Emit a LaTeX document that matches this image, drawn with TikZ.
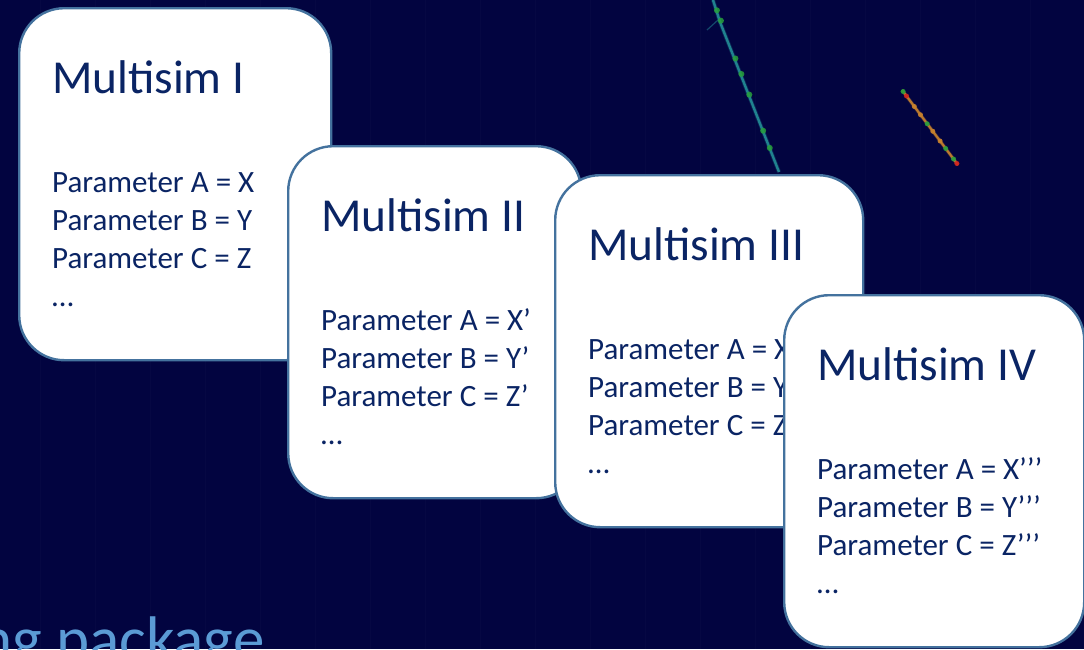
\documentclass[tikz,border=0pt]{standalone}
\usepackage{fontspec}
\setmainfont{Carlito}
\usetikzlibrary{calc}
\definecolor{navybg}{RGB}{2,4,64}
\definecolor{boxedge}{RGB}{68,114,158}
\definecolor{boxtext}{RGB}{10,36,100}
\definecolor{headtext}{RGB}{91,155,213}
\definecolor{trackA}{RGB}{35,140,150}
\definecolor{trackB}{RGB}{200,130,45}
\definecolor{hitgreen}{RGB}{40,160,60}
\definecolor{hitred}{RGB}{210,35,30}
\tikzset{
  simbox/.style={draw=boxedge, line width=2.4pt, fill=white, rounded corners=45pt,
    minimum width=#1, minimum height=352pt, anchor=north west, inner sep=0pt},
  simtitle/.style={anchor=base west, inner sep=0pt, text=boxtext, font=\fontsize{47.3}{52}\selectfont},
  simparam/.style={anchor=base west, inner sep=0pt, text=boxtext, font=\fontsize{31}{36}\selectfont},
  hit/.style={circle, inner sep=0pt, minimum size=#1},
}
% one card: name, top-left corner, width, roman numeral, primes
\newcommand{\simcard}[6]{%
  \node[simbox=#4] (#1) at (#2,#3) {};
  \node[simtitle] (#1-t) at ([xshift=34pt,yshift=-86pt]#1.north west) {Multisim #5};
  \node[simparam] (#1-a) at ([xshift=34pt,yshift=-185pt]#1.north west) {Parameter A = X#6};
  \node[simparam] (#1-b) at ([xshift=34pt,yshift=-223pt]#1.north west) {Parameter B = Y#6};
  \node[simparam] (#1-c) at ([xshift=34pt,yshift=-261pt]#1.north west) {Parameter C = Z#6};
  \node[simparam] (#1-d) at ([xshift=34pt,yshift=-299pt]#1.north west) {…};
}
\begin{document}
\begin{tikzpicture}[x=1pt,y=-1pt]
\useasboundingbox (0,0) rectangle (1084,649);
\clip (0,0) rectangle (1084,649);
\fill[navybg] (0,0) rectangle (1084,649);

% faint detector grid
\foreach \gx in {40,95,150,205,260,315,370,425,480,535,590,645,700,755,810,865,920,975,1030}
  \draw[white, opacity=0.02, line width=1pt] (\gx,0) -- (\gx,649);

% particle tracks
\draw[trackA, line width=4pt, opacity=0.25] (713,0) -- (720,22) -- (779,172);
\draw[trackA, line width=2.4pt, opacity=0.9] (713,0) -- (720,22) -- (779,172);
\draw[trackA, line width=1.2pt, opacity=0.5] (718,20) -- (707,30);
\foreach \t [count=\i] in {0.06,0.12,0.34,0.43,0.55,0.76,0.86}
  \node[hit=6pt, fill=hitgreen, opacity=0.85] (hA\i) at ($(713,0)!\t!(779,172)$) {};
\draw[trackB, line width=3.5pt, opacity=0.3] (902,90) -- (958,165);
\draw[trackB, line width=2.2pt, opacity=0.9] (902,90) -- (958,165);
\foreach \t/\c [count=\i] in {0.02/hitgreen,0.08/hitred,0.22/trackB,0.33/trackB,0.45/hitgreen,0.55/trackB,0.68/trackB,0.78/hitgreen,0.92/hitgreen,0.98/hitred}
  \node[hit=5pt, fill=\c, opacity=0.9] (hB\i) at ($(902,90)!\t!(958,165)$) {};

% heading fragment at the bottom
\node[anchor=base west, inner sep=0pt, text=headtext, font=\fontsize{63}{68}\selectfont] (head) at (-21,660) {ng package};

% parameter cards
\simcard{m1}{18}{7}{312pt}{I}{}
\simcard{m2}{287}{145}{293pt}{II}{’}
\simcard{m3}{554}{174}{308pt}{III}{’’}
\simcard{m4}{783}{294}{300pt}{IV}{’’’}
\end{tikzpicture}
\end{document}
